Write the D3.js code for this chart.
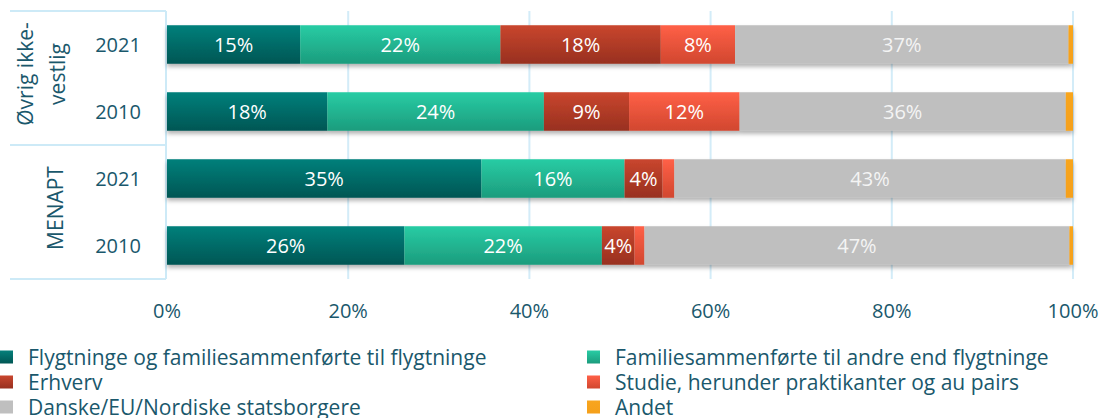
<!DOCTYPE html>
<html>
<head>
<meta charset="utf-8">
<script src="https://cdn.jsdelivr.net/npm/d3@7"></script>
<style>
	body { margin: 0; background: #fff; }
	svg { display: block; }
	text { font-family: "Open Sans", sans-serif; }
</style>
</head>
<body>
<div id="container"></div>
<script>
// ==============
//	DATA
// ==============

var groups = ["Øvrig ikke-vestlig", "MENAPT"];
var rowGroup = ["Øvrig ikke-vestlig", "Øvrig ikke-vestlig", "MENAPT", "MENAPT"];
var rowYear = ["2021", "2010", "2021", "2010"];

var seriesNames = [
	"Flygtninge og familiesammenførte til flygtninge",
	"Familiesammenførte til andre end flygtninge",
	"Erhverv",
	"Studie, herunder praktikanter og au pairs",
	"Danske/EU/Nordiske statsborgere",
	"Andet"
];

// shares in %, one value per row (top to bottom)
var flygtninge = [14.7, 17.7, 34.7, 26.2];
var familie    = [22.1, 23.9, 15.8, 21.8];
var erhverv    = [17.7, 9.4, 4.2, 3.6];
var studie     = [8.2, 12.2, 1.3, 1.1];
var danske     = [36.8, 36.0, 43.2, 46.9];
var andet      = [0.5, 0.8, 0.8, 0.4];

var ticks = [0, 20, 40, 60, 80, 100];

// ==============
//	OPTIONS
// ==============

var W = 1101, H = 418,
	plot = {left: 167, right: 1073, top: 11, bottom: 279},
	fontSize = 20,
	legendFontSize = 21,
	colText = "#1a586c",
	colGrid = "#d3ecf8";

// gradient top / bottom per series
var palette = [
	["#05807b", "#005654"],
	["#28cca4", "#1c9c7d"],
	["#c9462e", "#98301f"],
	["#ff6047", "#d1472f"],
	["#bfbfbf", "#bfbfbf"],
	["#f8a51e", "#f5a01a"]
];

var values = [flygtninge, familie, erhverv, studie, danske, andet];

// ==============
//	DRAW
// ==============

var svg = d3.select("#container").append("svg")
	.attr("width", W)
	.attr("height", H);

var defs = svg.append("defs");

palette.forEach(function(c, i) {
	var g = defs.append("linearGradient")
		.attr("id", "grad" + i)
		.attr("x1", 0).attr("y1", 0).attr("x2", 0).attr("y2", 1);
	g.append("stop").attr("offset", "0%").attr("stop-color", c[0]);
	g.append("stop").attr("offset", "100%").attr("stop-color", c[1]);
});

defs.append("filter")
	.attr("id", "shadow")
	.attr("x", "-5%").attr("y", "-20%").attr("width", "110%").attr("height", "160%")
	.append("feDropShadow")
		.attr("dx", 0).attr("dy", 3)
		.attr("stdDeviation", 2)
		.attr("flood-color", "#000")
		.attr("flood-opacity", 0.3);

var x = d3.scaleLinear()
	.domain([0, 100])
	.range([plot.left, plot.right]);

var y = d3.scaleBand()
	.domain(d3.range(rowYear.length))
	.range([plot.top, plot.bottom])
	.paddingInner(0.425)
	.paddingOuter(0.2125);

// stack the series
var table = rowYear.map(function(yr, i) {
	var o = {row: i};
	seriesNames.forEach(function(s, k) { o[s] = values[k][i]; });
	return o;
});
var stacked = d3.stack().keys(seriesNames)(table);

// === gridlines
svg.append("g")
	.selectAll("line")
		.data(ticks.filter(d => d > 0))
		.join("line")
		.attr("x1", d => x(d))
		.attr("x2", d => x(d))
		.attr("y1", plot.top)
		.attr("y2", plot.bottom)
		.attr("stroke", colGrid)
		.attr("stroke-width", 2);

// === left category box
var box = svg.append("g")
	.attr("stroke", "#cdeaf7")
	.attr("stroke-width", 2)
	.attr("fill", "none");

var groupBounds = groups.map(function(g) {
	var idx = d3.range(rowGroup.length).filter(i => rowGroup[i] === g);
	var top = idx[0] === 0 ? plot.top : y(idx[0]) - y.step() * y.paddingInner() / 2;
	var last = idx[idx.length - 1];
	var bottom = last === rowGroup.length - 1 ? plot.bottom : y(last) + y.bandwidth() + y.step() * y.paddingInner() / 2;
	return {name: g, top: top, bottom: bottom};
});

var hLines = [plot.top].concat(groupBounds.map(d => d.bottom));
box.selectAll("line.h")
	.data(hLines)
	.join("line")
	.attr("x1", 10)
	.attr("x2", plot.left - 1)
	.attr("y1", d => d)
	.attr("y2", d => d);

box.append("line")
	.attr("x1", plot.left - 1)
	.attr("x2", plot.left - 1)
	.attr("y1", plot.top)
	.attr("y2", plot.bottom);

// === bars
var bars = svg.append("g").attr("filter", "url(#shadow)");
bars.selectAll("g")
	.data(stacked)
	.join("g")
	.attr("fill", (d, i) => "url(#grad" + i + ")")
	.selectAll("rect")
		.data(d => d)
		.join("rect")
		.attr("x", d => x(d[0]))
		.attr("y", d => y(d.data.row))
		.attr("width", d => x(d[1]) - x(d[0]))
		.attr("height", y.bandwidth());

// === value labels
var labels = [];
stacked.forEach(function(s, k) {
	s.forEach(function(d) {
		var v = d[1] - d[0];
		if (v >= 3) labels.push({mid: (d[0] + d[1]) / 2, row: d.data.row, v: v, k: k});
	});
});

svg.append("g")
	.style("font-size", fontSize + "px")
	.attr("text-anchor", "middle")
	.selectAll("text")
		.data(labels)
		.join("text")
		.attr("x", d => x(d.mid))
		.attr("y", d => y(d.row) + y.bandwidth() / 2)
		.attr("dy", "0.36em")
		.attr("fill", d => d.k === 4 ? "#f4f4f4" : "#ffffff")
		.text(d => Math.round(d.v) + "%");

// === year labels
svg.append("g")
	.style("font-size", fontSize + "px")
	.attr("fill", colText)
	.attr("text-anchor", "middle")
	.selectAll("text")
		.data(rowYear)
		.join("text")
		.attr("x", 118)
		.attr("y", (d, i) => y(i) + y.bandwidth() / 2)
		.attr("dy", "0.36em")
		.text(d => d);

// === group labels (rotated, wrapped)
var groupLines = {"Øvrig ikke-vestlig": ["Øvrig ikke-", "vestlig"], "MENAPT": ["MENAPT"]};
groupBounds.forEach(function(g) {
	var lines = groupLines[g.name];
	var cy = (g.top + g.bottom) / 2 - 4;
	var t = svg.append("text")
		.style("font-size", legendFontSize + "px")
		.attr("fill", colText)
		.attr("text-anchor", "middle")
		.attr("transform", "translate(" + (lines.length > 1 ? 33 : 63) + "," + cy + ") rotate(-90)");
	lines.forEach(function(l, i) {
		t.append("tspan")
			.attr("x", 0)
			.attr("y", i * 32)
			.text(l);
	});
});

// === x axis tick labels
svg.append("g")
	.style("font-size", fontSize + "px")
	.attr("fill", colText)
	.attr("text-anchor", "middle")
	.selectAll("text")
		.data(ticks)
		.join("text")
		.attr("x", d => x(d))
		.attr("y", 318)
		.text(d => d + "%");

// === legend
var legend = svg.append("g")
	.style("font-size", legendFontSize + "px");

var legItems = legend.selectAll("g")
	.data(seriesNames)
	.join("g")
	.attr("transform", (d, i) => "translate(" + (i % 2 === 0 ? 0 : 587) + "," + (357 + Math.floor(i / 2) * 25) + ")");

legItems.append("rect")
	.attr("x", 0)
	.attr("y", -6.5)
	.attr("width", 13)
	.attr("height", 13)
	.attr("fill", (d, i) => "url(#grad" + i + ")");

legItems.append("text")
	.attr("x", 28)
	.attr("dy", "0.36em")
	.attr("fill", colText)
	.text(d => d);
</script>
</body>
</html>
